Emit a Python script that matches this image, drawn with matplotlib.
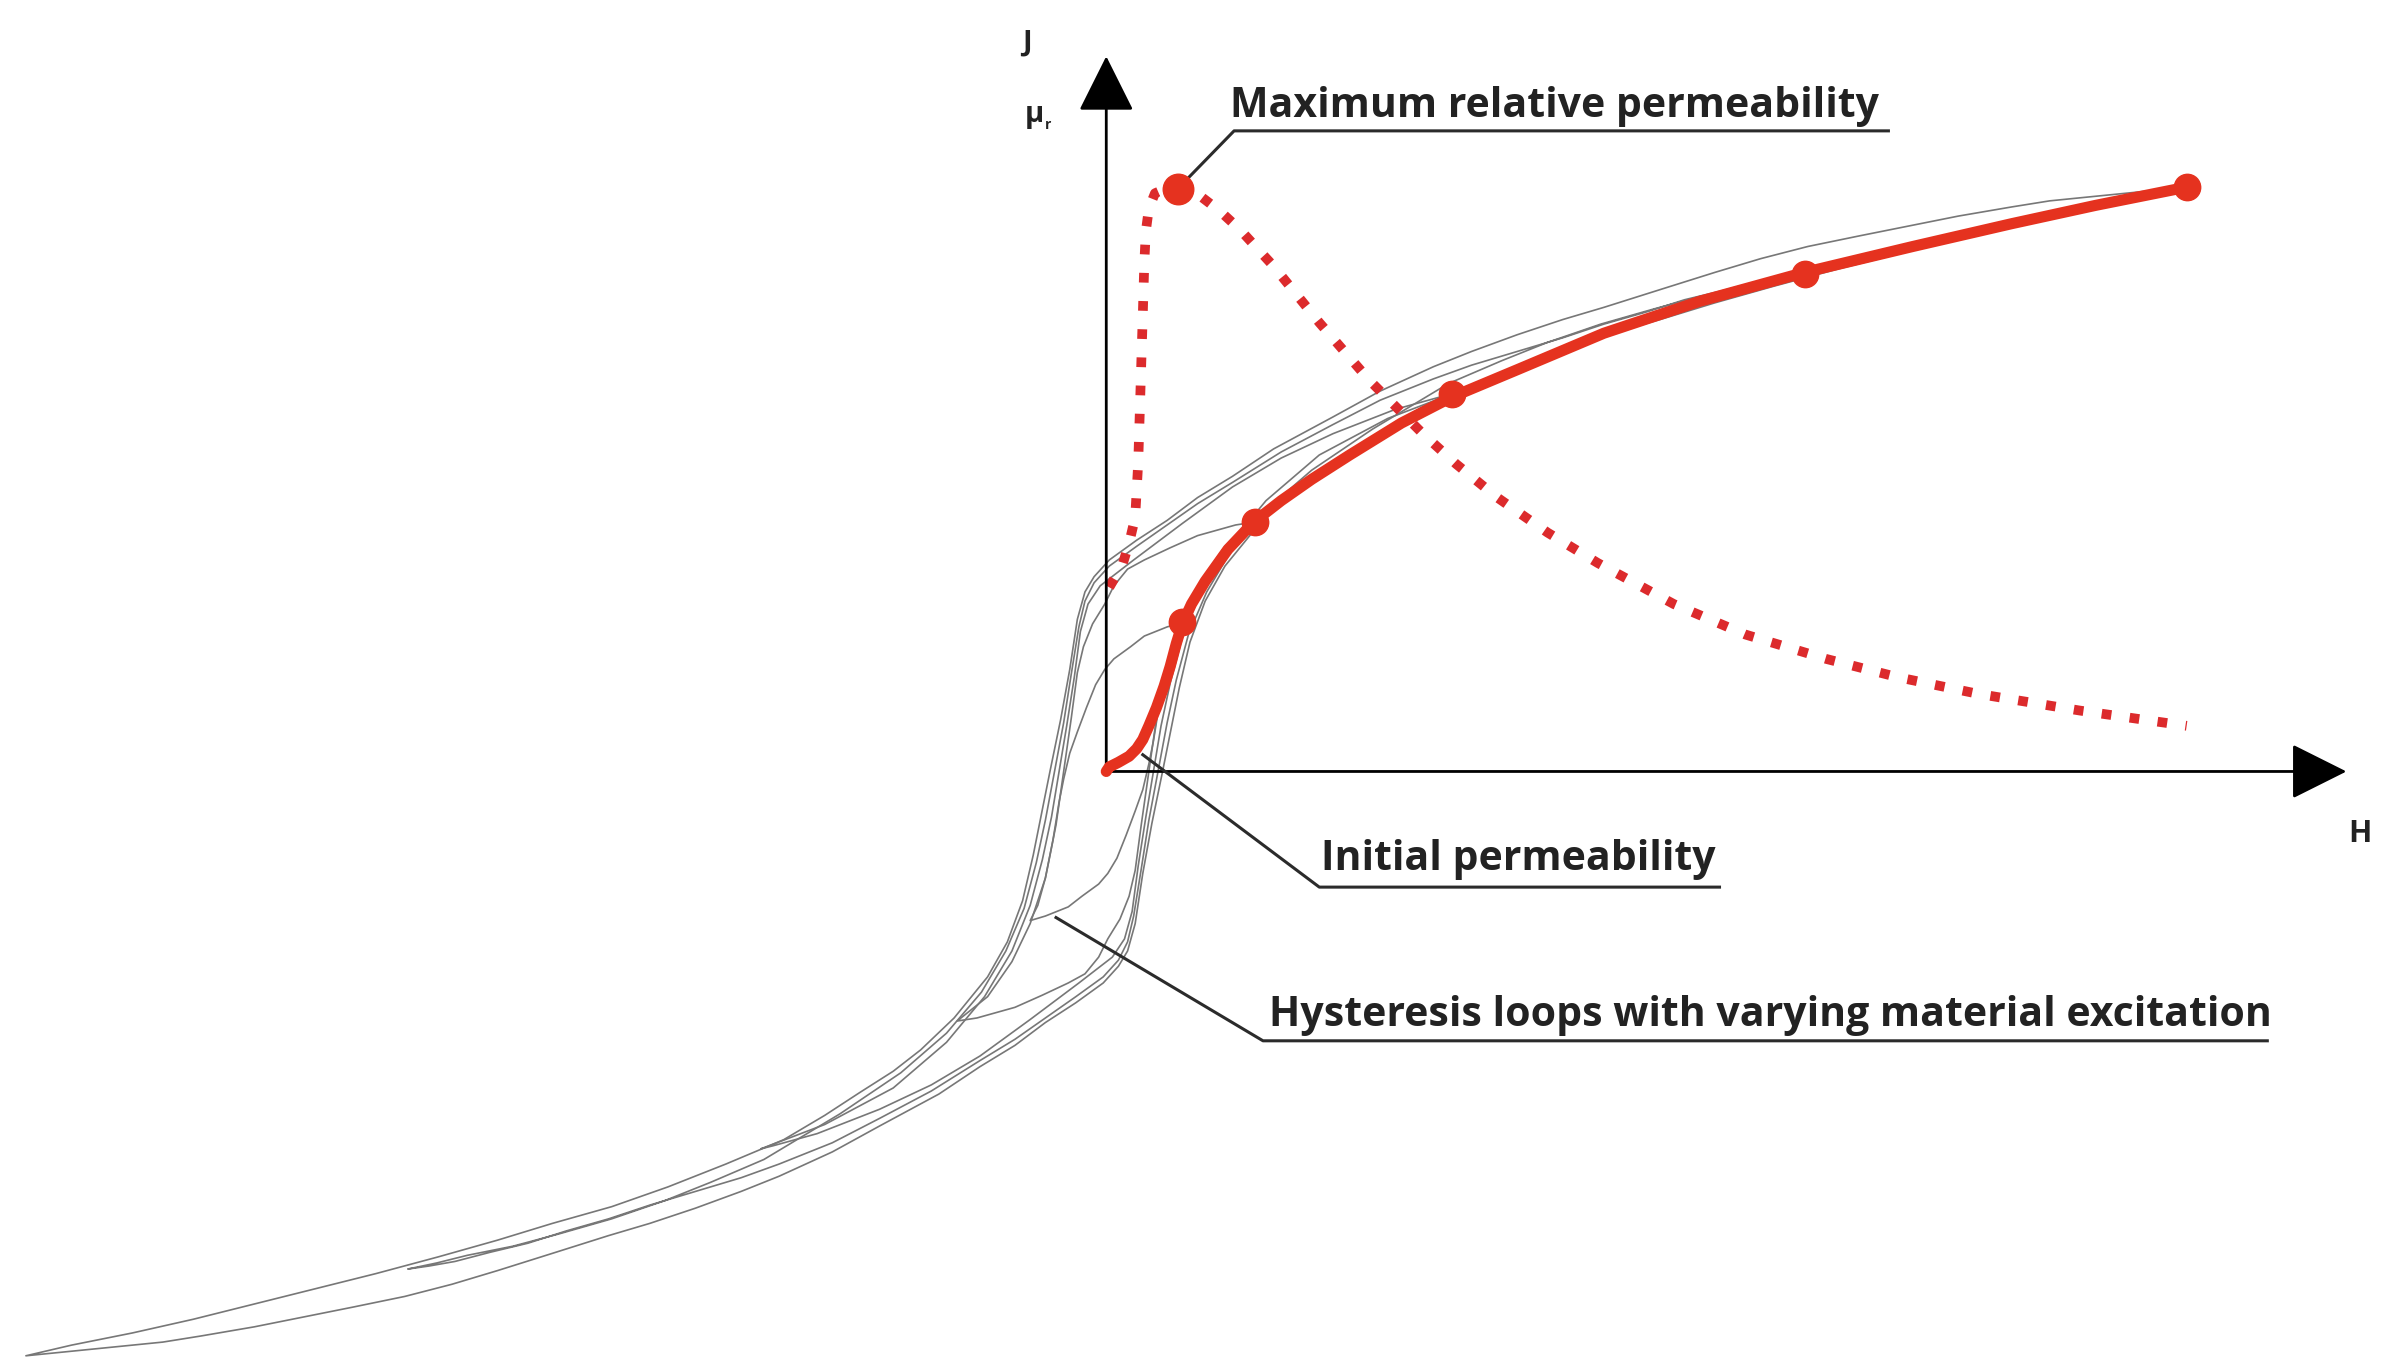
import numpy as np
import matplotlib
matplotlib.use("Agg")
import matplotlib.pyplot as plt

# units: reference pixels (shrunk image), origin at the axes crossing, J upwards
# descending branch of each hysteresis loop, from its upper tip to its lower tip
loop1_h = np.array([50, 40, 25, 16, 5, -1, -7, -13, -19, -24, -28, -31, -35, -40, -45, -50])
loop1_j = np.array([98, 95, 89, 82, 74, 67, 57, 42, 26, 12, -5, -20, -45, -70, -88, -98])

loop2_h = np.array([98, 85, 60, 42, 25, 14, 5, -1, -9, -15, -19, -23, -28, -33, -40, -50, -62, -78, -98])
loop2_j = np.array([164, 162, 155, 147, 139, 133, 122, 110, 97, 82, 65, 35, 0, -35, -70, -100, -125, -148, -164])

loop3_h = np.array([227, 219, 190, 149, 115, 83, 50, 18, -4, -12, -17, -21, -26, -31, -36, -42, -50, -62, -80,
                    -105, -140, -185, -227])
loop3_j = np.array([248, 246, 238, 222, 206, 187, 163, 139, 122, 110, 92, 62, 30, 0, -30, -58, -88, -118, -148,
                    -178, -208, -232, -248])

loop4_h = np.array([459, 445, 428, 405, 380, 355, 327, 300, 270, 240, 215, 180, 149, 115, 83, 60, 40, 20, 2, -8, -14,
                    -18, -23, -28, -34, -40, -46, -54, -66, -82, -105, -135, -175, -225, -260, -290, -325, -360,
                    -390, -420, -440, -459])
loop4_j = np.array([327, 325, 322, 316, 310, 302, 294, 285, 276, 267, 258, 244, 228, 210, 190, 176, 162, 148, 135, 124,
                    112, 95, 64, 32, 0, -32, -60, -90, -118, -145, -172, -198, -225, -255, -270, -282, -294, -304,
                    -312, -318, -323, -327])

loop5_h = np.array([710, 680, 650, 620, 595, 560, 530, 495, 461, 430, 400, 365, 327, 300, 270, 240, 215, 180, 149,
                    110, 83, 60, 40, 20, 2, -8, -14, -19, -24, -30, -37, -43, -48, -55, -65, -78, -100, -122, -140,
                    -162, -185, -212, -250, -288, -325, -364, -400, -439, -480, -520, -560, -600, -640, -680, -710])
loop5_j = np.array([384, 381, 378, 375, 371, 365, 359, 352, 345, 337, 328, 317, 305, 297, 287, 276, 266, 250, 233,
                    212, 194, 180, 165, 152, 139, 128, 118, 100, 67, 34, 0, -30, -55, -85, -112, -135, -162, -183,
                    -197, -211, -226, -242, -258, -273, -286, -297, -308, -319, -330, -340, -350, -360, -369, -377,
                    -384])

# initial magnetisation curve
init_h = np.array([0, 2, 8, 15, 20, 24, 28, 33, 38, 42, 46, 50, 56, 65, 80, 97, 115, 135, 160, 194, 227, 270, 327,
                   390, 459, 530, 595, 650, 710])
init_j = np.array([0, 3, 6, 10, 15, 21, 30, 42, 56, 69, 84, 97, 110, 125, 146, 164, 178, 192, 208, 229, 246, 264, 288,
                   309, 328, 345, 360, 372, 384])
tips_h = np.array([50, 98, 227, 459, 710])
tips_j = np.array([98, 164, 248, 327, 384])

# relative permeability
mu_h = np.array([2, 6, 11, 15, 19, 21, 22, 23, 24, 25, 26, 28, 32, 39, 47, 55, 62, 75, 88, 110, 140, 173, 208, 230,
                 257, 290, 323, 373, 420, 473, 520, 573, 640, 710])
mu_j = np.array([121, 128, 137, 150, 167, 203, 235, 268, 300, 334, 355, 370, 380, 383, 383, 381, 378, 368, 356, 332,
                 295, 257, 222, 202, 180, 157, 137, 110, 90, 74, 62, 51, 40, 30])
mu_max = (47, 383)

labels = ["Maximum relative permeability", "Initial permeability",
          "Hysteresis loops with varying material excitation"]

RED = "#e5321f"
RED_DOT = "#dc2a2c"
GREY = "#777777"
DARK = "#2b2b2b"

fig = plt.figure(figsize=(23.86, 13.71), dpi=100)
ax = fig.add_axes([0, 0, 1, 1])
ax.set_xlim(-727, 841)
ax.set_ylim(-394, 507)
ax.axis("off")

# loops are point symmetric, the ascending branch is the mirrored descending one
for h, j in [(loop1_h, loop1_j), (loop2_h, loop2_j), (loop3_h, loop3_j),
             (loop4_h, loop4_j), (loop5_h, loop5_j)]:
    ax.plot(np.r_[h, -h], np.r_[j, -j], color=GREY, lw=1.2, solid_joinstyle="round")

# axes with arrows
ax.annotate("", xy=(0, 470), xytext=(0, 0),
            arrowprops=dict(arrowstyle="-|>,head_length=0.4,head_width=0.2", mutation_scale=88,
                            color="black", lw=2, shrinkA=0, shrinkB=0))
ax.annotate("", xy=(815, 0), xytext=(0, 0),
            arrowprops=dict(arrowstyle="-|>,head_length=0.4,head_width=0.2", mutation_scale=88,
                            color="black", lw=2, shrinkA=0, shrinkB=0))

ax.plot(mu_h, mu_j, color=RED_DOT, lw=7, linestyle=(0, (1, 1.9)), dash_capstyle="butt")
ax.plot(*mu_max, "o", color=RED, ms=22, zorder=5)

ax.plot(init_h, init_j, color=RED, lw=8, solid_capstyle="round", solid_joinstyle="round", zorder=4)
ax.plot(tips_h, tips_j, "o", color=RED, ms=19, zorder=5)

# leader lines
ax.plot([mu_max[0], 84, 514], [mu_max[1], 421, 421], color=DARK, lw=2.2, zorder=3)
ax.plot([24, 140, 403], [11, -76, -76], color=DARK, lw=2.2, zorder=3)
ax.plot([-33, 103, 763], [-96, -177, -177], color=DARK, lw=2.2, zorder=3)

font = dict(family=["Open Sans", "DejaVu Sans"], weight="bold", color="#222222")
ax.text(81, 430, labels[0], fontsize=29.5, ha="left", va="baseline", **font)
ax.text(141, -65, labels[1], fontsize=29.5, ha="left", va="baseline", **font)
ax.text(107, -167, labels[2], fontsize=29.5, ha="left", va="baseline", **font)

ax.text(-52, 479, "J", fontsize=21, ha="center", va="center", **font)
ax.text(-47, 432, "μ", fontsize=21, ha="center", va="center", **font)
ax.text(-38, 425, "r", fontsize=10, ha="center", va="center", **font)
ax.text(824, -41, "H", fontsize=22, ha="center", va="center", **font)

fig.savefig("out.png", dpi=100)
